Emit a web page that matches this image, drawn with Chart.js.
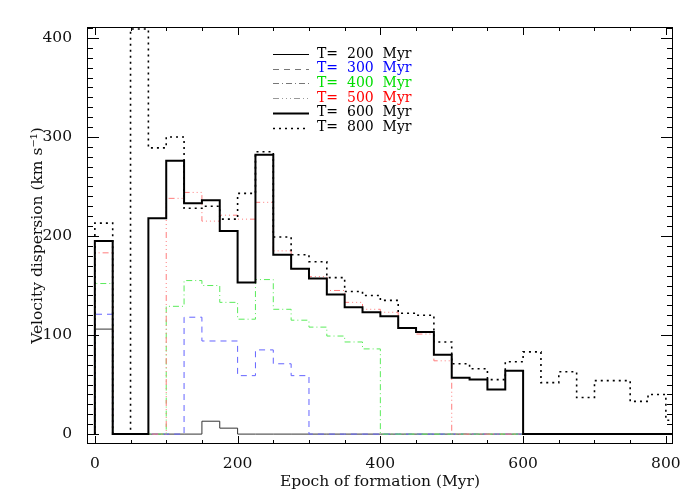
<!DOCTYPE html>
<html>
<head>
<meta charset="utf-8">
<script src="https://cdn.jsdelivr.net/npm/chart.js@4.4.1/dist/chart.umd.min.js"></script>
<style>
  html, body { margin: 0; padding: 0; background: #fff; }
  #wrap { width: 700px; height: 500px; }
</style>
</head>
<body>
<div id="wrap"><canvas id="chart" width="700" height="500"></canvas></div>
<script>
// bin left edges (Myr), each bin is 25 Myr wide
const binStarts = [0, 25, 50, 75, 100, 125, 150, 175, 200, 225, 250, 275, 300, 325, 350, 375,
                   400, 425, 450, 475, 500, 525, 550, 575, 600, 625, 650, 675, 700, 725, 750, 775, 800];
const binWidth = 25;

// velocity dispersion per bin (km/s), one list per snapshot time
const t200 = [106, 0, 0, 0, 0, 0, 13, 6, 0, 0, 0, 0, 0, 0, 0, 0, 0, 0, 0, 0, 0, 0, 0, 0];
const t300 = [121, 0, 0, 0, 0, 118, 94, 94, 59, 85, 71, 59, 0, 0, 0, 0, 0, 0, 0, 0, 0, 0, 0, 0];
const t400 = [152, 0, 0, 0, 129, 155, 150, 133, 116, 156, 126, 115, 108, 99, 93, 86, 0, 0, 0, 0, 0, 0, 0, 0];
const t500 = [183, 0, 0, 0, 238, 244, 215, 221, 217, 234, 185, 167, 159, 145, 133, 126,
              123, 107, 101, 74, 0, 0, 0, 0];
const t600 = [195, 0, 0, 218, 276, 233, 236, 205, 153, 282, 181, 167, 157, 141, 128, 123,
              119, 107, 103, 80, 57, 55, 45, 64, 0, 0, 0, 0, 0, 0, 0, 0, 0];
const t800 = [213, 0, 409, 289, 300, 228, 230, 217, 243, 285, 199, 181, 174, 158, 144, 140,
              135, 122, 120, 93, 71, 66, 55, 73, 83, 52, 63, 37, 54, 54, 33, 40, 14];

const xTickValues = [0, 200, 400, 600, 800];
const yTickValues = [0, 100, 200, 300, 400];

const seriesNames = ['T=  200  Myr', 'T=  300  Myr', 'T=  400  Myr', 'T=  500  Myr', 'T=  600  Myr', 'T=  800  Myr'];
const textColors = ['#000000', '#0000ff', '#00dd00', '#ff0000', '#000000', '#000000'];

const FONT = "'DejaVu Serif', serif";

// turn bin values into step points
function histPoints(vals) {
    let pts = [{x: binStarts[0], y: 0}];
    vals.forEach(function(v, i) {
        pts.push({x: binStarts[i], y: v});
    });
    let last = vals.length - 1;
    pts.push({x: binStarts[last] + binWidth, y: vals[last]});
    pts.push({x: binStarts[last] + binWidth, y: 0});
    return pts;
}

function makeSet(label, vals, color, width, dash, order) {
    return {
        label: label,
        data: histPoints(vals),
        borderColor: color,
        borderWidth: width,
        borderDash: dash,
        borderCapStyle: 'butt',
        stepped: 'before',
        pointRadius: 0,
        fill: false,
        order: order
    };
}

const datasets = [
    makeSet(seriesNames[0], t200, '#333333', 1, [], 6),
    makeSet(seriesNames[1], t300, 'rgb(100,100,255)', 1, [6, 5], 5),
    makeSet(seriesNames[2], t400, 'rgb(90,235,90)', 1, [6, 3, 1, 3], 4),
    makeSet(seriesNames[3], t500, 'rgb(255,125,125)', 1, [6, 3, 1, 3, 1, 3, 1, 3], 3),
    makeSet(seriesNames[4], t600, '#000000', 2, [], 2),
    makeSet(seriesNames[5], t800, '#000000', 1.6, [2, 4], 1)
];

// legend samples use grey lines like the original
const legendLine = [
    {color: '#000000', width: 1, dash: []},
    {color: '#777777', width: 1, dash: [6, 5]},
    {color: '#777777', width: 1, dash: [6, 3, 1, 3]},
    {color: '#999999', width: 1, dash: [6, 3, 1, 3, 1, 3, 1, 3]},
    {color: '#000000', width: 2, dash: []},
    {color: '#000000', width: 1.6, dash: [2, 4]}
];

const frameTicks = {
    id: 'frameTicks',
    afterDatasetsDraw(chart) {
        const ctx = chart.ctx;
        const a = chart.chartArea;
        const x = chart.scales.x, y = chart.scales.y;
        ctx.save();
        ctx.strokeStyle = '#000';
        ctx.lineWidth = 1;
        ctx.setLineDash([]);
        ctx.strokeRect(a.left + 0.5, a.top + 0.5, a.right - a.left - 1, a.bottom - a.top - 1);
        ctx.beginPath();
        for (let v = 0; v <= 800; v += 50) {
            let px = Math.round(x.getPixelForValue(v)) + 0.5;
            let len = v % 200 === 0 ? 8 : 4;
            ctx.moveTo(px, a.bottom); ctx.lineTo(px, a.bottom - len);
            ctx.moveTo(px, a.top); ctx.lineTo(px, a.top + len);
        }
        for (let v = 0; v <= 410; v += 10) {
            let py = Math.round(y.getPixelForValue(v)) + 0.5;
            let len = v % 100 === 0 ? 12 : 6;
            ctx.moveTo(a.left, py); ctx.lineTo(a.left + len, py);
            ctx.moveTo(a.right, py); ctx.lineTo(a.right - len, py);
        }
        ctx.stroke();

        // legend
        ctx.font = '14px ' + FONT;
        ctx.textBaseline = 'middle';
        ctx.textAlign = 'left';
        seriesNames.forEach(function(name, i) {
            let ly = 54 + i * 14.7;
            let st = legendLine[i];
            ctx.beginPath();
            ctx.strokeStyle = st.color;
            ctx.lineWidth = st.width;
            ctx.setLineDash(st.dash);
            ctx.moveTo(273, Math.round(ly) + 0.5);
            ctx.lineTo(309, Math.round(ly) + 0.5);
            ctx.stroke();
            ctx.fillStyle = textColors[i];
            ctx.fillText(name, 317, ly);
        });
        ctx.restore();
    }
};

new Chart(document.getElementById('chart'), {
    type: 'line',
    data: { datasets: datasets },
    options: {
        responsive: false,
        animation: false,
        layout: { padding: { top: 27, right: 27, left: 0, bottom: 0 } },
        plugins: { legend: { display: false }, tooltip: { enabled: false } },
        scales: {
            x: {
                type: 'linear',
                min: -11,
                max: 810,
                afterBuildTicks: function(scale) {
                    scale.ticks = xTickValues.map(function(v) { return {value: v}; });
                },
                afterFit: function(scale) { scale.height = 56; },
                grid: { display: false },
                border: { display: false },
                ticks: {
                    maxRotation: 0,
                    autoSkip: false,
                    padding: 3,
                    color: '#111',
                    font: { family: FONT, size: 15.5 }
                },
                title: {
                    display: true,
                    text: 'Epoch of formation (Myr)',
                    color: '#111',
                    font: { family: FONT, size: 15.5 },
                    padding: { top: 0, bottom: 9 }
                }
            },
            y: {
                type: 'linear',
                min: -10,
                max: 411,
                afterBuildTicks: function(scale) {
                    scale.ticks = yTickValues.map(function(v) { return {value: v}; });
                },
                afterFit: function(scale) { scale.width = 87; },
                grid: { display: false },
                border: { display: false },
                ticks: {
                    autoSkip: false,
                    padding: 7,
                    color: '#111',
                    font: { family: FONT, size: 15.5 }
                },
                title: {
                    display: true,
                    text: 'Velocity dispersion (km s\u207B\u00B9)',
                    color: '#111',
                    font: { family: FONT, size: 15.5 },
                    padding: { top: 29, bottom: 0 }
                }
            }
        }
    },
    plugins: [frameTicks]
});
</script>
</body>
</html>
